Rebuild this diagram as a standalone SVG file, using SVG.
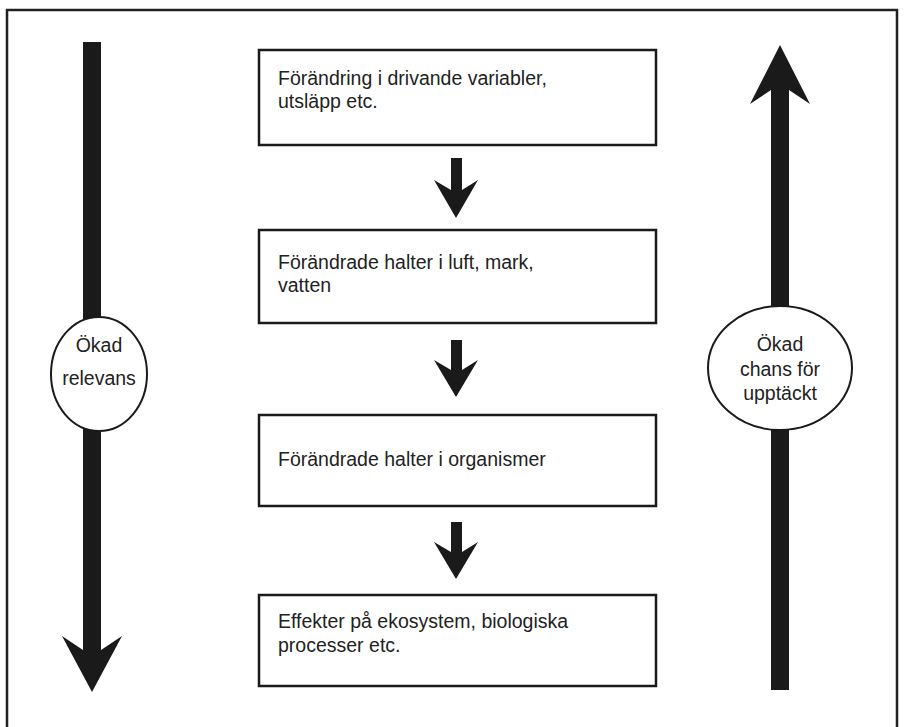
<svg xmlns="http://www.w3.org/2000/svg" width="904" height="727" viewBox="0 0 904 727">
<style>
.box{fill:#fff;stroke:#1a1a1a;stroke-width:2.5}
.circ{fill:#fff;stroke:#1a1a1a;stroke-width:2}
.t{font-family:"Liberation Sans",Arial,sans-serif;font-size:19.5px;fill:#222}
.arr{fill:#1a1a1a}
</style>
<rect width="904" height="727" fill="#fff"/>
<path d="M7,727 V10 H897 V727" fill="none" stroke="#222" stroke-width="2.5"/>
<g id="connectors">
<path class="arr" d="M83,42 H101 V650 L122,636 L92,692 L62,636 L83,650 Z"/>
<path class="arr" d="M771,690 V90 L750,104 L780,45 L810,104 L789,90 V690 Z"/>
<path class="arr" d="M451,158 H462 V190 L478,180 L456,218 L434,180 L451,190 Z"/>
<path class="arr" d="M451,340 H462 V370 L478,360 L456,397 L434,360 L451,370 Z"/>
<path class="arr" d="M451,522 H462 V552 L478,542 L456,579 L434,542 L451,552 Z"/>
</g>
<g id="relevans">
<ellipse class="circ" cx="99" cy="374" rx="48" ry="57"/>
<text class="t" x="99" y="352" text-anchor="middle">Ökad</text>
<text class="t" x="99" y="385" text-anchor="middle">relevans</text>
</g>
<g id="upptackt">
<ellipse class="circ" cx="780" cy="368" rx="72" ry="62"/>
<text class="t" x="780" y="351" text-anchor="middle">Ökad</text>
<text class="t" x="780" y="376" text-anchor="middle">chans för</text>
<text class="t" x="780" y="400" text-anchor="middle">upptäckt</text>
</g>
<g id="box1">
<rect class="box" x="259" y="50" width="397" height="95"/>
<text class="t" x="278" y="85">Förändring i drivande variabler,</text>
<text class="t" x="278" y="108">utsläpp etc.</text>
</g>
<g id="box2">
<rect class="box" x="259" y="230" width="397" height="93"/>
<text class="t" x="278" y="269">Förändrade halter i luft, mark,</text>
<text class="t" x="278" y="292">vatten</text>
</g>
<g id="box3">
<rect class="box" x="259" y="415" width="397" height="91"/>
<text class="t" x="278" y="466">Förändrade halter i organismer</text>
</g>
<g id="box4">
<rect class="box" x="259" y="595" width="397" height="91"/>
<text class="t" x="278" y="628">Effekter på ekosystem, biologiska</text>
<text class="t" x="278" y="652">processer etc.</text>
</g>
</svg>
